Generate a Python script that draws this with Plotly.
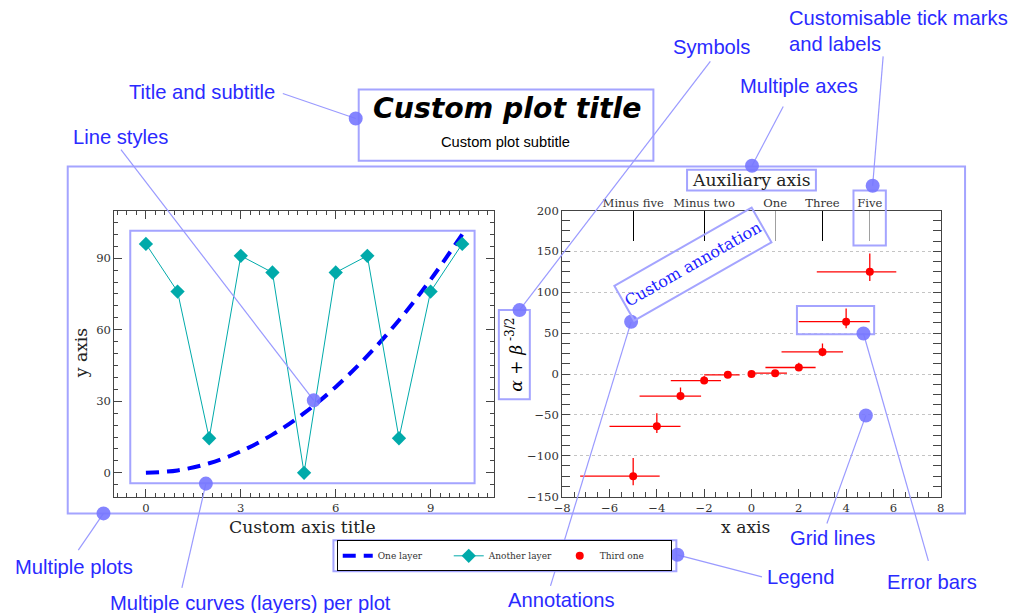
import plotly.graph_objects as go

# ---------------- data ----------------
layer_x = [0, 1, 2, 3, 4, 5, 6, 7, 8, 9, 10]
one_layer_y = [0, 1, 4, 9, 16, 25, 36, 49, 64, 81, 100]
another_layer_y = [96, 76, 14.5, 91, 84, 0, 84, 91, 14.5, 76, 96]

third_x = [-5, -4, -3, -2, -1, 0, 1, 2, 3, 4, 5]
third_y = [-125, -64, -27, -8, -1, 0, 1, 8, 27, 64, 125]
third_xerr_plus = [1.12, 1.0, 0.87, 0.71, 0.5, 0, 0.5, 0.71, 0.87, 1.0, 1.12]
third_xerr_minus = [2.24, 2.0, 1.73, 1.41, 1.0, 0, 1.0, 1.41, 1.73, 2.0, 2.24]
third_yerr_plus = [22.4, 16, 10.4, 5.7, 2, 0, 2, 5.7, 10.4, 16, 22.4]
third_yerr_minus = [11.2, 8, 5.2, 2.8, 1, 0, 1, 2.8, 5.2, 8, 11.2]

aux_dark_vals = [-5, -2, 3]
aux_dark_text = ["Minus five", "Minus two", "Three"]
aux_light_vals = [1, 5]
aux_light_text = ["One", "Five"]

# ---------------- page geometry ----------------
# layout positions below are given in window pixels; the page keeps its
# default 8px body margin and the captured page area is slightly larger
# than the window, so window pixels are converted into figure pixels here
SX, SY = 1013 / 1025, 613 / 629
BODY_MARGIN = 8
W, H = 1017, 621
K = 1 / SX  # font / size compensation


def px(x):
    return (x / SX - BODY_MARGIN) / W


def py(y):
    return 1 - (y / SY - BODY_MARGIN) / H


def fs(size):
    return round(size * K, 1)


SERIF = "DejaVu Serif, Liberation Serif, serif"
SANS = "Liberation Sans, Arial, sans-serif"
AXIS_COL = "#444"
TICK_FONT = dict(family=SERIF, size=fs(11.5), color="#333")
CALLOUT_TXT = "#2a2aff"
CALLOUT_LINE = "#9a9aff"
CALLOUT_BOX = "#a4a4ff"
CALLOUT_DOT = "#7777ff"

fig = go.Figure()

# ---------------- left plot: two layers ----------------
fig.add_trace(go.Scatter(
    x=layer_x, y=one_layer_y, name="One layer", mode="lines",
    line=dict(color="#0000ff", width=4, dash="13px,8px", shape="spline"),
    xaxis="x", yaxis="y",
))
fig.add_trace(go.Scatter(
    x=layer_x, y=another_layer_y, name="Another layer", mode="lines+markers",
    line=dict(color="#00aaaa", width=1),
    marker=dict(symbol="diamond", size=11, color="#00aaaa"),
    xaxis="x", yaxis="y",
))

# ---------------- right plot: points with asymmetric errors ----------------
fig.add_trace(go.Scatter(
    x=third_x, y=third_y, name="Third one", mode="markers",
    marker=dict(symbol="circle", size=8, color="#ff0000"),
    error_x=dict(type="data", symmetric=False, array=third_xerr_plus,
                 arrayminus=third_xerr_minus, color="#ff0000", thickness=1.3, width=0),
    error_y=dict(type="data", symmetric=False, array=third_yerr_plus,
                 arrayminus=third_yerr_minus, color="#ff0000", thickness=1.3, width=0),
    xaxis="x2", yaxis="y2",
))

# hidden carriers so the auxiliary top axes get drawn
fig.add_trace(go.Scatter(x=aux_dark_vals, y=[None] * len(aux_dark_vals), mode="markers",
                         xaxis="x3", yaxis="y2", showlegend=False, hoverinfo="skip"))
fig.add_trace(go.Scatter(x=aux_light_vals, y=[None] * len(aux_light_vals), mode="markers",
                         xaxis="x4", yaxis="y2", showlegend=False, hoverinfo="skip"))

left_dom_x = [px(113.3), px(493.3)]
right_dom_x = [px(561.7), px(940.7)]
dom_y = [py(496), py(210.7)]

common_axis = dict(
    showline=True, linecolor=AXIS_COL, linewidth=1,
    ticks="inside", tickcolor=AXIS_COL, ticklen=8, tickwidth=1,
    showgrid=False, zeroline=False, tickfont=TICK_FONT,
)

fig.update_layout(
    width=W, height=H,
    margin=dict(l=0, r=0, t=0, b=0),
    paper_bgcolor="white", plot_bgcolor="white",
    xaxis=dict(domain=left_dom_x, anchor="y", range=[-1, 11], dtick=3, tick0=0,
               mirror="allticks",
               minor=dict(dtick=0.3, tick0=0, ticks="inside", ticklen=4, tickcolor=AXIS_COL),
               **common_axis),
    yaxis=dict(domain=dom_y, anchor="x", range=[-10, 110], dtick=30, tick0=0,
               mirror="allticks",
               minor=dict(dtick=5, tick0=0, ticks="inside", ticklen=4, tickcolor=AXIS_COL),
               **common_axis),
    xaxis2=dict(domain=right_dom_x, anchor="y2", range=[-8, 8], dtick=2, tick0=0,
                mirror=True,
                minor=dict(dtick=0.5, tick0=0, ticks="inside", ticklen=5, tickcolor=AXIS_COL),
                **common_axis),
    yaxis2=dict(domain=dom_y, anchor="x2", range=[-150, 200], dtick=50, tick0=0,
                mirror="allticks",
                minor=dict(dtick=12.5, tick0=0, ticks="inside", ticklen=4, tickcolor=AXIS_COL),
                **{**common_axis, "showgrid": True},
                gridcolor="#c4c4c4", griddash="dot", gridwidth=1),
    # auxiliary top axis with custom labels and long tick marks
    xaxis3=dict(overlaying="x2", anchor="y2", side="top", range=[-8, 8],
                tickmode="array", tickvals=aux_dark_vals, ticktext=aux_dark_text,
                ticks="inside", ticklen=30, tickcolor="#000", tickwidth=1,
                showline=False, showgrid=False, zeroline=False, tickfont=TICK_FONT),
    xaxis4=dict(overlaying="x2", anchor="y2", side="top", range=[-8, 8],
                tickmode="array", tickvals=aux_light_vals, ticktext=aux_light_text,
                ticks="inside", ticklen=30, tickcolor="#a0a0a0", tickwidth=1,
                showline=False, showgrid=False, zeroline=False, tickfont=TICK_FONT),
    showlegend=True,
    legend=dict(
        orientation="h", x=px(336), y=py(555), xanchor="left", yanchor="middle",
        bordercolor="#000", borderwidth=1, bgcolor="white",
        font=dict(family=SERIF, size=9, color="#333"),
        entrywidth=66, entrywidthmode="pixels",
        itemwidth=30, tracegroupgap=0,
    ),
)

annotations = []
shapes = []

# title and subtitle
annotations.append(dict(
    text="<b><i>Custom plot title</i></b>", x=px(506), y=py(109), xref="paper", yref="paper",
    showarrow=False, xanchor="center", yanchor="middle",
    font=dict(family="DejaVu Sans, Liberation Sans, sans-serif", size=fs(28), color="#000"),
))
annotations.append(dict(
    text="Custom plot subtitle", x=px(505), y=py(142), xref="paper", yref="paper",
    showarrow=False, xanchor="center", yanchor="middle",
    font=dict(family="Liberation Sans, sans-serif", size=fs(14.5), color="#000"),
))

# axis titles
annotations += [
    dict(text="y axis", x=px(80), y=py(353), textangle=-90,
         font=dict(family=SERIF, size=fs(17), color="#222")),
    dict(text="Custom axis title", x=px(302), y=py(526),
         font=dict(family=SERIF, size=fs(17), color="#222")),
    dict(text="x axis", x=px(745), y=py(526),
         font=dict(family=SERIF, size=fs(17), color="#222")),
    dict(text="Auxiliary axis", x=px(751.3), y=py(180.5),
         font=dict(family=SERIF, size=fs(17), color="#222")),
    dict(text="<i>α</i> + <i>β</i><sup> -3/2</sup>", x=px(514), y=py(355), textangle=-90,
         font=dict(family=SERIF, size=fs(17), color="#000")),
]
for a in annotations[-5:]:
    a.update(xref="paper", yref="paper", showarrow=False, xanchor="center", yanchor="middle")

# rotated custom annotation inside the right plot
annotations.append(dict(
    text="Custom annotation", x=px(692.7), y=py(264.2), xref="paper", yref="paper",
    showarrow=False, xanchor="center", yanchor="middle", textangle=-29.7,
    width=round(152 * K), height=round(36 * K), borderpad=1,
    bordercolor=CALLOUT_BOX, borderwidth=2,
    font=dict(family=SERIF, size=fs(15.8), color="#2020ff"),
))

# callout labels: (text, left x, centre y)
callout_labels = [
    ("Title and subtitle", 126, 93),
    ("Line styles", 70, 137),
    ("Symbols", 671, 48),
    ("Multiple axes", 738, 87),
    ("Customisable tick marks<br>and labels", 787, 32),
    ("Multiple plots", 12, 566),
    ("Multiple curves (layers) per plot", 107, 602),
    ("Annotations", 505, 599),
    ("Legend", 765, 576),
    ("Grid lines", 788, 537),
    ("Error bars", 885, 581),
]
for txt, lx, cy in callout_labels:
    annotations.append(dict(
        text=txt, x=px(lx), y=py(cy), xref="paper", yref="paper", showarrow=False,
        xanchor="left", yanchor="middle", align="left",
        font=dict(family=SANS, size=fs(20), color=CALLOUT_TXT),
    ))

# frames around highlighted parts
boxes = [
    (66.7, 166.7, 965, 512.7),     # both plots
    (358, 90, 653, 161),           # title
    (129.3, 231, 474, 482.7),      # layers
    (686.7, 170, 815.7, 190.7),    # auxiliary axis title
    (498.3, 310, 529.3, 399),      # y axis title
    (853.3, 190.7, 885.7, 245.7),  # tick mark "Five"
    (796.7, 306, 874, 334),        # error bar
    (332.7, 539.5, 676, 570.5),    # legend
]
for x0, y0, x1, y1 in boxes:
    shapes.append(dict(type="rect", xref="paper", yref="paper",
                       x0=px(x0), x1=px(x1), y0=py(y1), y1=py(y0),
                       line=dict(color=CALLOUT_BOX, width=2)))

# leader lines and dots: (label end, dot centre)
leaders = [
    ((282, 94), (355, 119)),
    ((120, 150), (313, 400)),
    ((710, 62), (519, 310)),
    ((783, 107), (751.7, 166)),
    ((883, 57), (872.5, 186)),
    ((77.3, 549.3), (102.5, 512.7)),
    ((181, 587), (205, 483)),
    ((550, 585), (630.7, 321.7)),
    ((761.7, 576), (677, 554)),
    ((826.7, 522.7), (865.7, 415)),
    ((928.3, 560), (863.3, 333.3)),
]
R = 7
for (ax, ay), (dx, dy) in leaders:
    shapes.append(dict(type="line", xref="paper", yref="paper",
                       x0=px(ax), y0=py(ay), x1=px(dx), y1=py(dy),
                       line=dict(color=CALLOUT_LINE, width=1.2)))
for _, (dx, dy) in leaders:
    shapes.append(dict(type="circle", xref="paper", yref="paper",
                       x0=px(dx - R), x1=px(dx + R), y0=py(dy + R), y1=py(dy - R),
                       fillcolor=CALLOUT_DOT, line=dict(width=0), opacity=0.9))

fig.update_layout(annotations=annotations, shapes=shapes)

fig.write_html("out.html")
